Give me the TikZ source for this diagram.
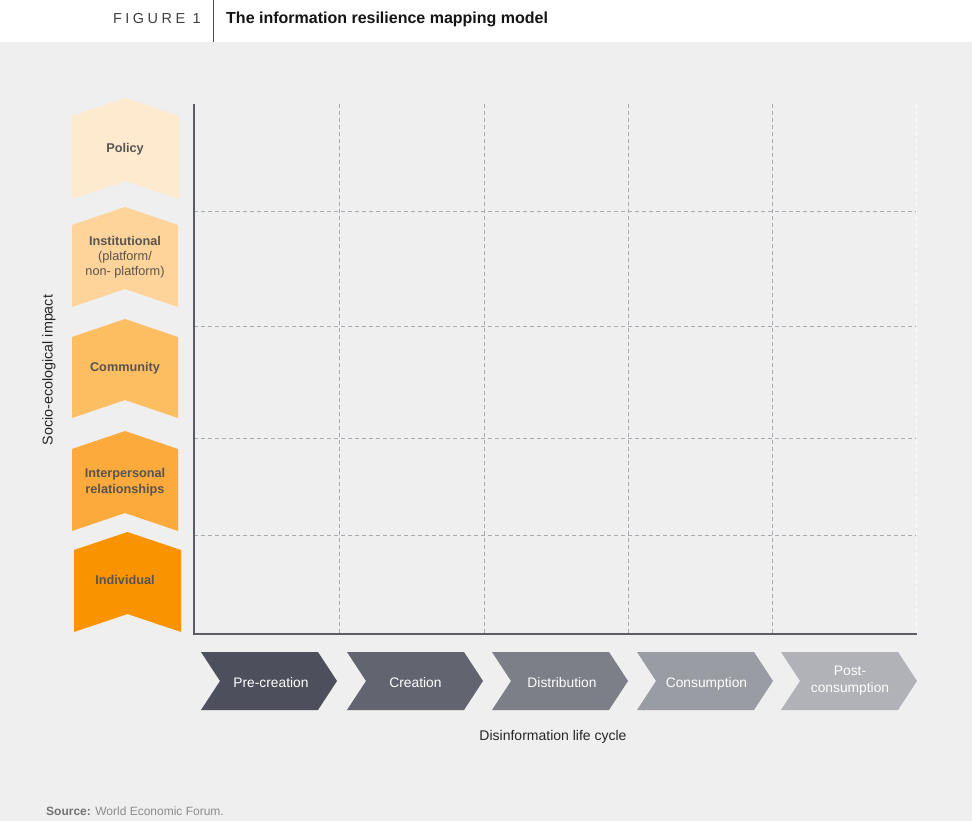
\documentclass[tikz,border=0pt]{standalone}
\usepackage{fontspec}
\setmainfont{Liberation Sans}
\newfontfamily\figfont[LetterSpace=24]{Liberation Sans}
\definecolor{bg}{HTML}{EFEFEF}
\definecolor{axisc}{HTML}{5A5C66}
\definecolor{gridc}{HTML}{A8AAB2}
\definecolor{vtext}{HTML}{58544F}
\definecolor{vc1}{HTML}{FEEACE}
\definecolor{vc2}{HTML}{FED49A}
\definecolor{vc3}{HTML}{FDBE62}
\definecolor{vc4}{HTML}{FBAA3B}
\definecolor{vc5}{HTML}{F99400}
\definecolor{hc1}{HTML}{4D505C}
\definecolor{hc2}{HTML}{62646F}
\definecolor{hc3}{HTML}{7C7E88}
\definecolor{hc4}{HTML}{9A9CA3}
\definecolor{hc5}{HTML}{B1B2B7}
\newcommand{\hchev}[2]{\fill[#2] (#1,652) -- ++(117,0) -- ++(19,29) -- ++(-19,29) -- ++(-117,0) -- ++(19,-29) -- cycle;}
\newcommand{\vchev}[5]{\fill[#5] (#1,#3+18) -- ({(#1+#2)/2},#3) -- (#2,#3+18) -- (#2,#4) -- ({(#1+#2)/2},#4-18) -- (#1,#4) -- cycle;}
\tikzset{
  axisline/.style={line width=2pt, draw=axisc},
  gridline/.style={line width=0.9pt, draw=gridc, dash pattern=on 4pt off 3pt},
  hlabel/.style={text=white, font=\fontsize{13.8}{16.5}\selectfont, align=center, inner sep=0pt},
  vlabel/.style={text=vtext, font=\fontsize{12.7}{15}\selectfont\bfseries, align=center, inner sep=0pt},
}
\begin{document}
\begin{tikzpicture}[x=1pt,y=-1pt]
\useasboundingbox (0,0) rectangle (972,821);
\fill[bg] (0,42) rectangle (972,821);
\fill[white] (0,0) rectangle (972,42);
% header
\coordinate (sepT) at (213,0);
\coordinate (sepB) at (213,42);
\draw[line width=1pt, draw=black!70] (sepT) -- (sepB);
\node[anchor=base east, inner sep=0pt, text=black!75, font=\figfont\fontsize{14.5}{16}\selectfont] (fig) at (201,24) {FIGURE 1};
\node[anchor=base west, inner sep=0pt, text=black!92, font=\fontsize{16}{18}\selectfont\bfseries] (title) at (226,24) {The information resilience mapping model};
% grid
\foreach \gx in {339,484,628,772} {\draw[gridline] (\gx,104) -- (\gx,634);}
\foreach \gy in {211,326,438,535} {\draw[gridline] (194,\gy) -- (916,\gy);}
\draw[line width=0.9pt, draw=white!96!gridc, dash pattern=on 4pt off 3pt] (916.5,104) -- (916.5,634);
% axes
\coordinate (ytop) at (194,104);
\coordinate (orig) at (194,634);
\coordinate (xend) at (917,634);
\draw[axisline] (ytop) -- (orig) -- (xend);
% vertical chevrons
\vchev{72}{179}{98}{199}{vc1}
\vchev{72}{178}{207}{307}{vc2}
\vchev{72}{178}{319}{418}{vc3}
\vchev{72}{178}{431}{531}{vc4}
\vchev{74}{181}{532}{632}{vc5}
\node[vlabel, anchor=base] (policy) at (125,152.8) {Policy};
\node[vlabel] (inst) at (125,257) {Institutional\\[0.5pt]\mdseries(platform/\\\mdseries non- platform)};
\node[vlabel, anchor=base] (comm) at (125,371.8) {Community};
\node[vlabel] (inter) at (125,482.5) {Interpersonal\\[1pt]relationships};
\node[vlabel, anchor=base] (indiv) at (125,584.8) {Individual};
\node[rotate=90, inner sep=0pt, text=black!85, font=\fontsize{14.3}{16}\selectfont] (socio) at (49,370) {Socio-ecological impact};
% horizontal chevrons
\hchev{201}{hc1}
\hchev{347}{hc2}
\hchev{492}{hc3}
\hchev{637}{hc4}
\hchev{781}{hc5}
\node[hlabel, anchor=base] (pre) at (271,687) {Pre-creation};
\node[hlabel, anchor=base] (cre) at (415.5,687) {Creation};
\node[hlabel, anchor=base] (dist) at (562,687) {Distribution};
\node[hlabel, anchor=base] (cons) at (706.5,687) {Consumption};
\node[hlabel] (post) at (850,680.5) {Post-\\consumption};
\node[anchor=base, inner sep=0pt, text=black!85, font=\fontsize{14}{16}\selectfont] (life) at (553,740) {Disinformation life cycle};
% source
\node[anchor=base west, inner sep=0pt, font=\fontsize{12}{14}\selectfont] (src) at (46,815.5) {\textcolor{black!55}{\bfseries Source:} \textcolor{black!45}{World Economic Forum.}};
\end{tikzpicture}
\end{document}
